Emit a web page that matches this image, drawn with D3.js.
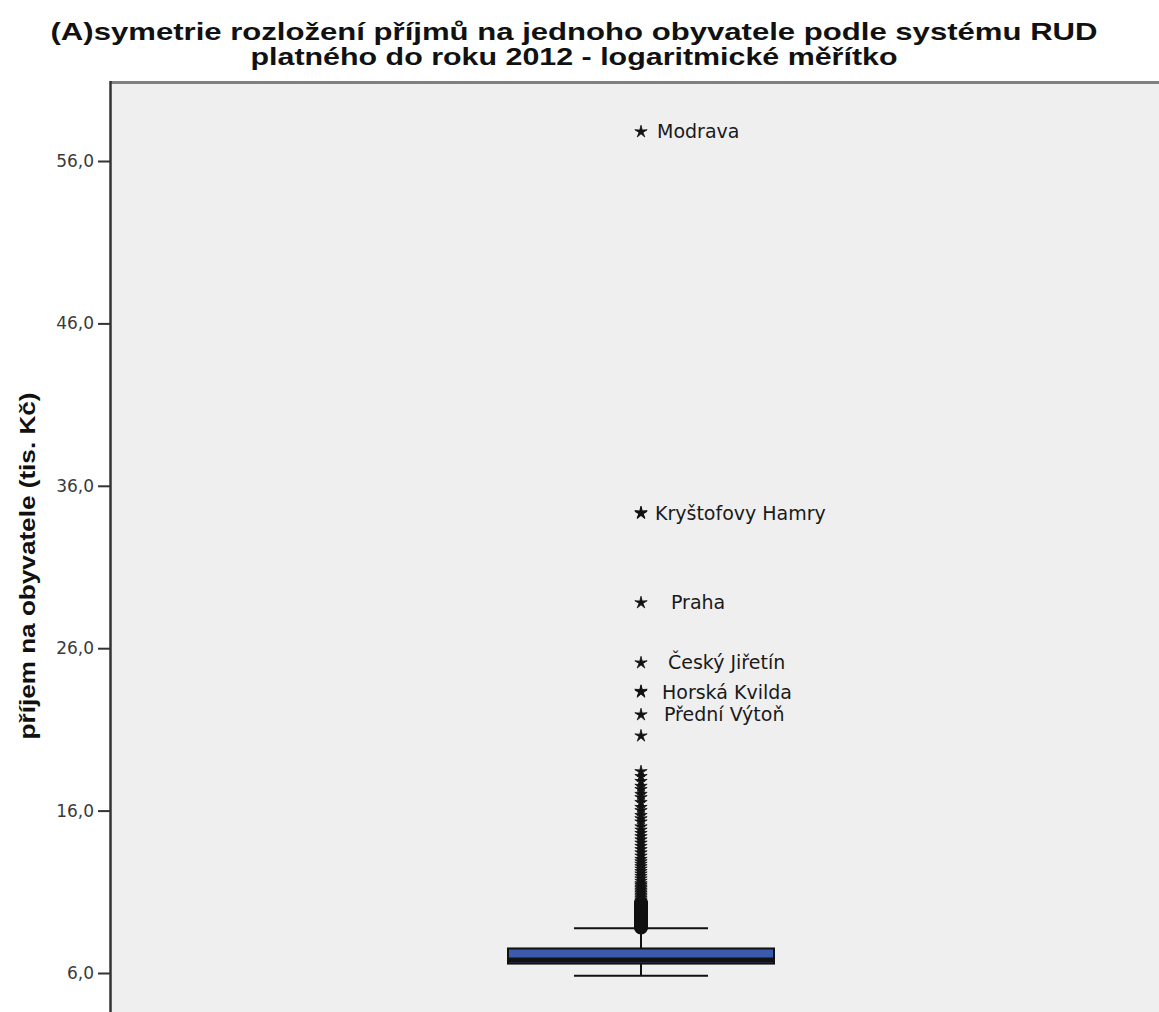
<!DOCTYPE html>
<html lang="cs">
<head>
<meta charset="UTF-8">
<title>Asymetrie rozložení příjmů</title>
<script src="https://d3js.org/d3.v7.min.js"></script>
<style>
    body { margin: 0; background: #fff; }
    svg { display: block; }
    .title { font-family: "Liberation Sans", Arial, sans-serif; font-weight: bold; font-size: 24px; fill: #111; text-anchor: middle; }
    .ylabel { font-family: "Liberation Sans", Arial, sans-serif; font-weight: bold; font-size: 22px; fill: #111; text-anchor: middle; }
    .tick text { font-family: "DejaVu Sans", sans-serif; font-size: 17px; fill: #3a3a3a; }
    .olabel { font-family: "DejaVu Sans", sans-serif; font-size: 19px; fill: #1a1a1a; }
</style>
</head>
<body>
<svg id="chart" width="1159" height="1012"></svg>
<script>
// title + axis text
const titleLines = ["(A)symetrie rozložení příjmů na jednoho obyvatele podle systému RUD",
                    "platného do roku 2012 - logaritmické měřítko"];
const yLabel = "příjem na obyvatele (tis. Kč)";
const yTicks = [6, 16, 26, 36, 46, 56];

// box summary (tis. Kč)
const boxStats = { lowWhisker: 5.83, q1: 6.58, median: 6.80, q3: 7.51, highWhisker: 8.75 };

// outliers (circles) between whisker and 3 IQR
const outlierCircles = [8.80, 8.85, 8.90, 8.95, 9.00, 9.05, 9.10, 9.15, 9.20, 9.25, 9.30, 9.35,
    9.40, 9.45, 9.50, 9.55, 9.60, 9.65, 9.70, 9.75, 9.80, 9.85, 9.90, 9.95, 10.00, 10.05,
    10.10, 10.15, 10.20, 10.25, 10.30];

// extreme values (stars), unlabeled
const extremeStars = [10.35, 10.4, 10.5, 10.6, 10.7, 10.8, 10.9, 11.0, 11.1, 11.2, 11.3, 11.4,
    11.5, 11.65, 11.8, 11.95, 12.1, 12.25, 12.4, 12.55, 12.7, 12.85, 13.0, 13.2, 13.4, 13.6,
    13.8, 14.0, 14.2, 14.4, 14.6, 14.8, 15.0, 15.3, 15.5, 15.7, 16.0, 16.2, 16.5, 16.8, 17.0,
    17.3, 17.5, 17.8, 18.1, 18.4, 20.6, 23.35, 34.35];

// labelled extremes
const namedNames = ["Modrava", "Kryštofovy Hamry", "Praha", "Český Jiřetín", "Horská Kvilda", "Přední Výtoň"];
const namedValues = [57.8, 34.3, 28.8, 25.1, 23.3, 21.9];

const svg = d3.select("#chart");
const plot = { left: 111, top: 82, right: 1175, bottom: 1030 };
const cx = 641;

const y = d3.scaleLinear().domain([6, 56]).range([973, 161]);

// plot area
svg.append("rect")
    .attr("x", plot.left).attr("y", plot.top)
    .attr("width", plot.right - plot.left).attr("height", plot.bottom - plot.top)
    .attr("fill", "#efefef");
svg.append("line")
    .attr("x1", plot.left - 1).attr("x2", plot.right)
    .attr("y1", plot.top + 0.5).attr("y2", plot.top + 0.5)
    .attr("stroke", "#7f7f7f").attr("stroke-width", 3);
svg.append("line")
    .attr("x1", plot.left - 0.5).attr("x2", plot.left - 0.5)
    .attr("y1", plot.top - 1).attr("y2", plot.bottom)
    .attr("stroke", "#333").attr("stroke-width", 2.5);

// y axis
const axis = svg.append("g")
    .attr("transform", `translate(${plot.left - 1},0)`)
    .call(d3.axisLeft(y).tickValues(yTicks).tickSize(12).tickPadding(4)
        .tickFormat(d => d3.format(".1f")(d).replace(".", ",")));
axis.select(".domain").remove();
axis.selectAll(".tick line").attr("stroke", "#333").attr("stroke-width", 2);

// title (stretched to the reference width)
const titleWidths = [1047, 647];
svg.selectAll(".title").data(titleLines).enter().append("text")
    .attr("class", "title")
    .attr("x", 574)
    .attr("y", (d, i) => 40 + i * 25)
    .attr("textLength", (d, i) => titleWidths[i])
    .attr("lengthAdjust", "spacingAndGlyphs")
    .text(d => d);

svg.append("text")
    .attr("class", "ylabel")
    .attr("transform", "translate(35,566) rotate(-90)")
    .attr("textLength", 347)
    .attr("lengthAdjust", "spacingAndGlyphs")
    .text(yLabel);

// whiskers
const capHalf = 67, boxHalf = 133;
svg.append("line")
    .attr("x1", cx).attr("x2", cx)
    .attr("y1", y(boxStats.highWhisker)).attr("y2", y(boxStats.q3))
    .attr("stroke", "#111").attr("stroke-width", 2);
svg.append("line")
    .attr("x1", cx).attr("x2", cx)
    .attr("y1", y(boxStats.q1)).attr("y2", y(boxStats.lowWhisker))
    .attr("stroke", "#111").attr("stroke-width", 2);
[boxStats.highWhisker, boxStats.lowWhisker].forEach(v => {
    svg.append("line")
        .attr("x1", cx - capHalf).attr("x2", cx + capHalf)
        .attr("y1", y(v)).attr("y2", y(v))
        .attr("stroke", "#111").attr("stroke-width", 2);
});

// box
svg.append("rect")
    .attr("x", cx - boxHalf).attr("width", boxHalf * 2)
    .attr("y", y(boxStats.q3)).attr("height", y(boxStats.q1) - y(boxStats.q3))
    .attr("fill", "#3c5aad").attr("stroke", "#111").attr("stroke-width", 2);
svg.append("line")
    .attr("x1", cx - boxHalf).attr("x2", cx + boxHalf)
    .attr("y1", y(boxStats.median)).attr("y2", y(boxStats.median))
    .attr("stroke", "#111").attr("stroke-width", 5);

// outlier circles
svg.append("g").selectAll("circle")
    .data(outlierCircles).enter().append("circle")
    .attr("cx", cx).attr("cy", d => y(d))
    .attr("r", 6).attr("fill", "none")
    .attr("stroke", "#111").attr("stroke-width", 2);

// star marker: thin five-armed star
const thinStar = {
    draw(ctx, size) {
        const R = Math.sqrt(size), r = R * 0.32;
        for (let i = 0; i < 10; i++) {
            const a = -Math.PI / 2 + i * Math.PI / 5;
            const rr = i % 2 ? r : R;
            if (i === 0) ctx.moveTo(rr * Math.cos(a), rr * Math.sin(a));
            else ctx.lineTo(rr * Math.cos(a), rr * Math.sin(a));
        }
        ctx.closePath();
    }
};
const starPath = d3.symbol().type(thinStar).size(42);

const allStars = extremeStars.concat(namedValues);
svg.append("g").selectAll("path")
    .data(allStars).enter().append("path")
    .attr("d", starPath)
    .attr("transform", d => `translate(${cx},${y(d)})`)
    .attr("fill", "#111").attr("stroke", "#111").attr("stroke-width", 0.8);

// labels (SPSS pads some names with spaces)
const labelDx = [16, 14, 30, 27, 21, 23];
svg.append("g").selectAll("text")
    .data(namedNames).enter().append("text")
    .attr("class", "olabel")
    .attr("x", (d, i) => cx + labelDx[i])
    .attr("y", (d, i) => y(namedValues[i]))
    .attr("dy", "0.35em")
    .text(d => d);
</script>
</body>
</html>
